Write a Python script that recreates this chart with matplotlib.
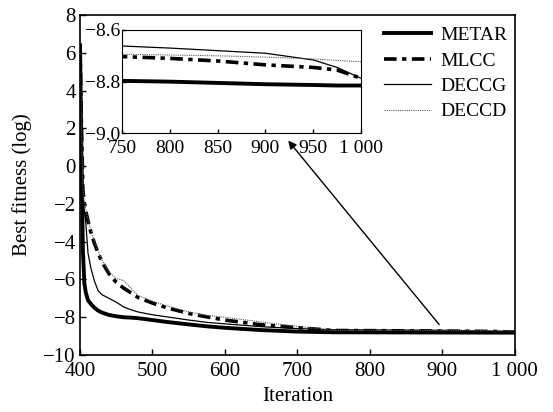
import matplotlib
matplotlib.use('Agg')
import matplotlib.pyplot as plt

plt.rcParams['font.family'] = ['Liberation Serif', 'DejaVu Serif']
plt.rcParams['mathtext.fontset'] = 'stix'

# iteration grid and best-fitness curves (log scale)
iters = [400, 402, 404, 406, 408, 411, 415, 420, 425, 430, 440, 450, 460, 470, 480,
         500, 520, 550, 575, 600, 650, 700, 750, 800, 850, 900, 950, 975, 1000]
metar = [6.4, 0.5, -4.5, -6.2, -6.7, -7.1, -7.3, -7.5, -7.65, -7.75, -7.88, -7.95, -8.0, -8.02, -8.05,
         -8.15, -8.25, -8.38, -8.48, -8.56, -8.68, -8.76, -8.797, -8.80, -8.805, -8.81, -8.813, -8.815, -8.815]
mlcc = [6.4, 2.0, -1.3, -2.0, -2.4, -2.9, -3.5, -4.1, -4.6, -5.05, -5.7, -6.15, -6.45, -6.7, -6.95,
        -7.25, -7.5, -7.8, -7.98, -8.15, -8.4, -8.55, -8.703, -8.71, -8.72, -8.735, -8.745, -8.755, -8.787]
deccg = [6.4, 1.5, -1.5, -2.4, -3.0, -4.6, -5.4, -6.1, -6.6, -6.8, -7.0, -7.2, -7.45, -7.6, -7.72,
         -7.87, -7.98, -8.15, -8.27, -8.35, -8.5, -8.6, -8.662, -8.67, -8.68, -8.69, -8.716, -8.745, -8.787]
deccd = [6.4, 2.0, -1.2, -1.9, -2.3, -2.8, -3.4, -4.0, -4.5, -4.95, -5.6, -5.95, -6.05, -6.45, -6.85,
         -7.15, -7.4, -7.72, -7.9, -8.0, -8.25, -8.48, -8.694, -8.697, -8.70, -8.705, -8.712, -8.718, -8.723]

xticks = [400, 500, 600, 700, 800, 900, 1000]
xtick_labels = ['400', '500', '600', '700', '800', '900', '1 000']
inset_xticks = [750, 800, 850, 900, 950, 1000]
inset_xtick_labels = ['750', '800', '850', '900', '950', '1 000']
inset_yticks = [-9.0, -8.8, -8.6]


def draw_series(ax):
    ax.plot(iters, metar, color='black', lw=2.8, label='METAR', solid_joinstyle='round')
    ax.plot(iters, mlcc, color='black', lw=2.6, dashes=(3.5, 1.5, 1.2, 1.5), label='MLCC')
    ax.plot(iters, deccg, color='black', lw=0.9, label='DECCG')
    ax.plot(iters, deccd, color='0.35', lw=0.8, ls=(0, (1, 1)), label='DECCD')


fig = plt.figure(figsize=(5.53, 4.12), dpi=100)
ax = fig.add_axes([0.1447, 0.1383, 0.931 - 0.1447, 0.9636 - 0.1383])
draw_series(ax)
ax.set_xlim(400, 1000)
ax.set_ylim(-10, 8)
ax.set_xticks(xticks)
ax.set_xticklabels(xtick_labels)
ax.set_yticks(range(-10, 9, 2))
ax.tick_params(direction='in', labelsize=15, length=4, width=1)
ax.tick_params(axis='x', pad=5)
ax.tick_params(axis='y', pad=3)
ax.set_xlabel('Iteration', fontsize=15, labelpad=4)
ax.set_ylabel('Best fitness (log)', fontsize=15, labelpad=8)
for s in ax.spines.values():
    s.set_linewidth(1.2)

ax.legend(loc='upper right', bbox_to_anchor=(1.01, 1.0), frameon=False, fontsize=14,
          handlelength=2.4, handletextpad=0.5, labelspacing=0.4, borderaxespad=0.2)

# inset zoom on the tail
axin = fig.add_axes([0.2206, 0.6765, 0.6528 - 0.2206, 0.9272 - 0.6765])
draw_series(axin)
axin.set_xlim(750, 1000)
axin.set_ylim(-9.0, -8.6)
axin.set_xticks(inset_xticks)
axin.set_xticklabels(inset_xtick_labels)
axin.set_yticks(inset_yticks)
axin.set_yticklabels([('%.1f' % v).replace('-', '\u2212') for v in inset_yticks])
axin.tick_params(direction='in', labelsize=14, length=3, width=1)
axin.tick_params(axis='x', pad=5)
axin.tick_params(axis='y', pad=1)
for s in axin.spines.values():
    s.set_linewidth(0.8)

ax.annotate('', xy=(922, -9.02), xycoords=axin.transData, xytext=(898, -8.5), textcoords='data',
            arrowprops=dict(arrowstyle='-|>', color='black', lw=1.0, mutation_scale=12),
            annotation_clip=False)

fig.savefig('out.png', dpi=100)
plt.close(fig)
